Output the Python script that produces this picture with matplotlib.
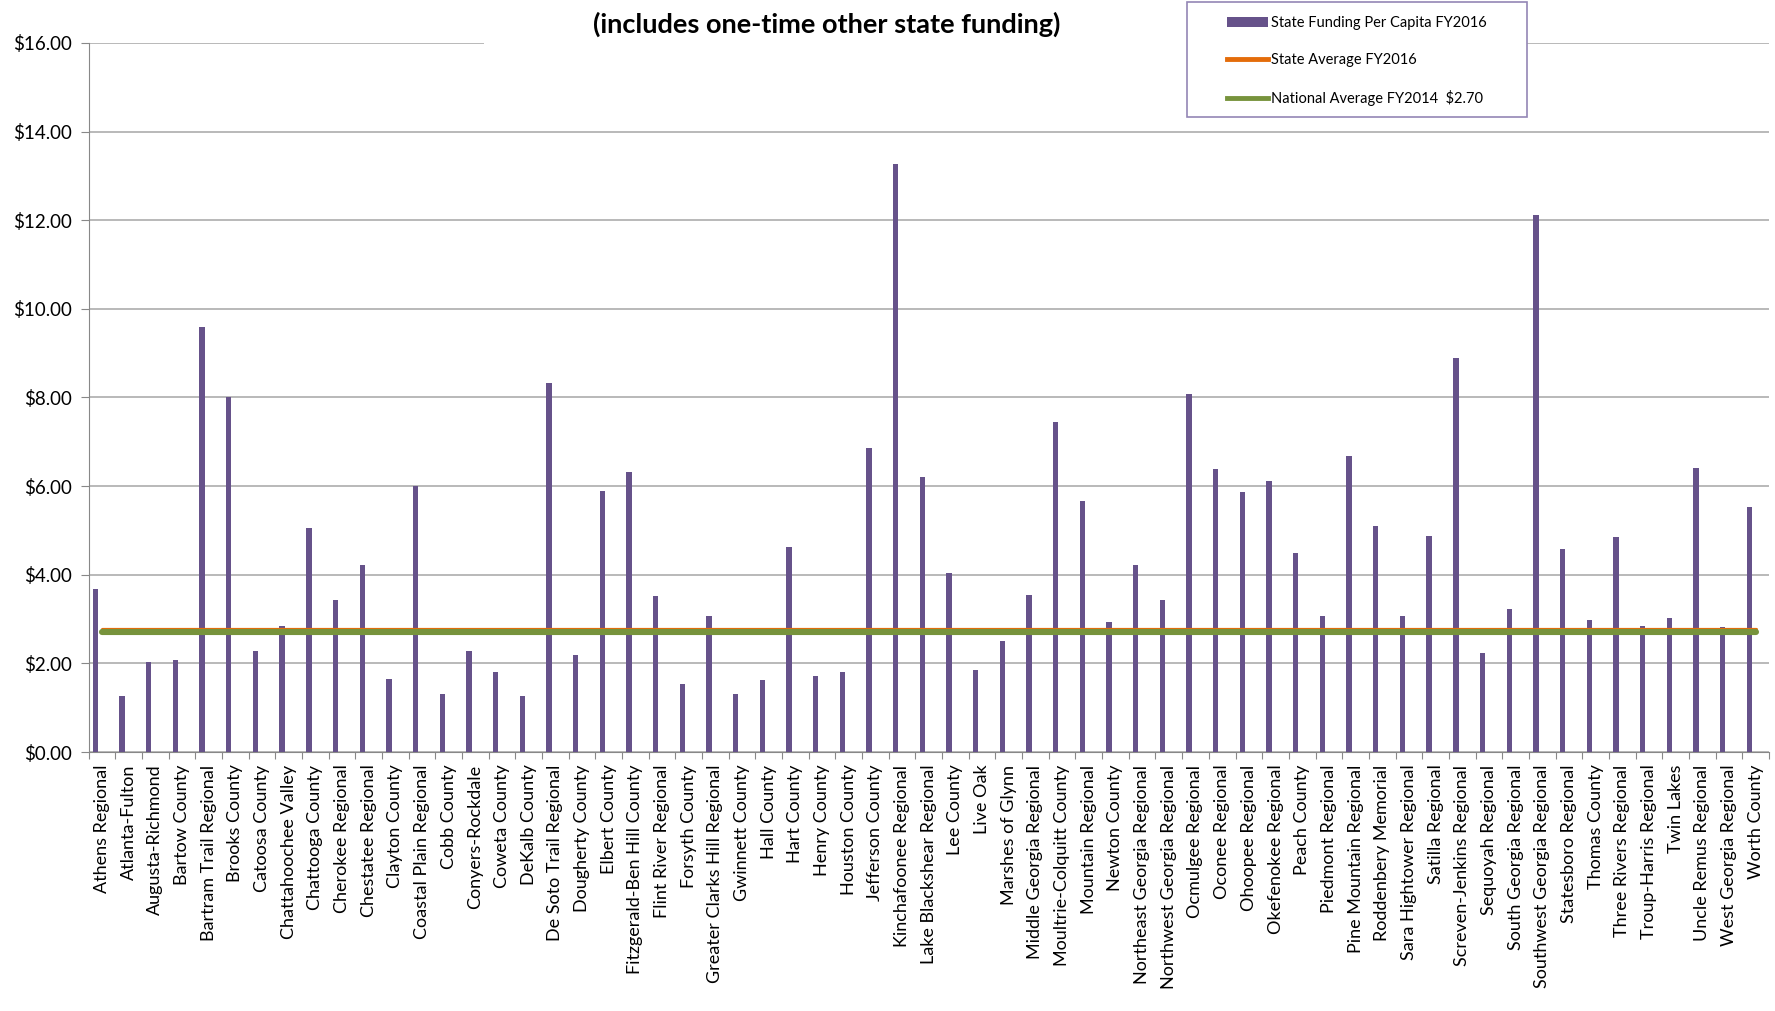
import numpy as np
import matplotlib.pyplot as plt
from matplotlib.patches import Rectangle, Patch
from matplotlib.lines import Line2D

# Datos
libraries = ['Athens Regional', 'Atlanta-Fulton', 'Augusta-Richmond', 'Bartow County',
             'Bartram Trail Regional', 'Brooks County', 'Catoosa County', 'Chattahoochee Valley',
             'Chattooga County', 'Cherokee Regional', 'Chestatee Regional', 'Clayton County',
             'Coastal Plain Regional', 'Cobb County', 'Conyers-Rockdale', 'Coweta County',
             'DeKalb County', 'De Soto Trail Regional', 'Dougherty County', 'Elbert County',
             'Fitzgerald-Ben Hill County', 'Flint River Regional', 'Forsyth County',
             'Greater Clarks Hill Regional', 'Gwinnett County', 'Hall County', 'Hart County',
             'Henry County', 'Houston County', 'Jefferson County', 'Kinchafoonee Regional',
             'Lake Blackshear Regional', 'Lee County', 'Live Oak', 'Marshes of Glynn',
             'Middle Georgia Regional', 'Moultrie-Colquitt County', 'Mountain Regional',
             'Newton County', 'Northeast Georgia Regional', 'Northwest Georgia Regional',
             'Ocmulgee Regional', 'Oconee Regional', 'Ohoopee Regional', 'Okefenokee Regional',
             'Peach County', 'Piedmont Regional', 'Pine Mountain Regional', 'Roddenbery Memorial',
             'Sara Hightower Regional', 'Satilla Regional', 'Screven-Jenkins Regional',
             'Sequoyah Regional', 'South Georgia Regional', 'Southwest Georgia Regional',
             'Statesboro Regional', 'Thomas County', 'Three Rivers Regional',
             'Troup-Harris Regional', 'Twin Lakes', 'Uncle Remus Regional',
             'West Georgia Regional', 'Worth County']

funding_2016 = [3.67, 1.27, 2.04, 2.07, 9.58, 8.00, 2.29, 2.84,
                5.06, 3.43, 4.21, 1.65, 6.00, 1.31, 2.29, 1.81,
                1.27, 8.32, 2.19, 5.90, 6.32, 3.53, 1.54,
                3.08, 1.31, 1.63, 4.63, 1.72, 1.81, 6.86, 13.26,
                6.20, 4.03, 1.85, 2.50, 3.55, 7.45, 5.67,
                2.93, 4.23, 3.43, 8.09, 6.38, 5.87, 6.11,
                4.50, 3.06, 6.68, 5.10, 3.08, 4.88, 8.90,
                2.23, 3.22, 12.11, 4.59, 2.99, 4.86,
                2.85, 3.03, 6.41, 2.83, 5.52]

state_avg_2016 = 2.77
national_avg_2014 = 2.70

titulo = '(includes one-time other state funding)'
etiquetas_leyenda = ['State Funding Per Capita FY2016', 'State Average FY2016',
                     'National Average FY2014  $2.70']

# Colores estilo Excel
purple = '#66528A'
orange = '#E46C0A'
green = '#77933C'
grid_gray = '#A6A6A6'

plt.rcParams['font.family'] = ['Lato', 'DejaVu Sans']

fig = plt.figure(figsize=(17.75, 10.11), dpi=100)
ax = fig.add_axes([0.04986, 0.25618, 0.94676, 0.70129])

x = np.arange(len(libraries))
ax.bar(x - 0.24, funding_2016, width=0.2, color=purple, zorder=3)

ax.plot([x[0], x[-1]], [state_avg_2016] * 2, color=orange, lw=2.3,
        solid_capstyle='round', zorder=4)
ax.plot([x[0], x[-1]], [national_avg_2014] * 2, color=green, lw=4.4,
        solid_capstyle='round', zorder=5)

ax.set_xlim(-0.5, len(libraries) - 0.5)
ax.set_ylim(0, 16)
ax.set_yticks(np.arange(0, 17, 2))
ax.set_yticklabels(['${:.2f}'.format(v) for v in np.arange(0, 17, 2)])
ax.yaxis.grid(True, color=grid_gray, lw=1.1, zorder=0)
ax.set_axisbelow(True)

# ticks entre categorías, etiquetas al centro
ax.set_xticks(np.arange(-0.5, len(libraries), 1))
ax.set_xticklabels([])
ax.set_xticks(x, minor=True)
ax.set_xticklabels(libraries, minor=True, rotation=90, fontsize=13)
ax.tick_params(axis='x', which='major', length=5, color='#888888', direction='out')
ax.tick_params(axis='x', which='minor', length=0, pad=9)
ax.tick_params(axis='y', length=6, color='#888888', labelsize=13.5, pad=6)

for s in ['top', 'right']:
    ax.spines[s].set_visible(False)
for s in ['left', 'bottom']:
    ax.spines[s].set_color('#888888')

# caja blanca del título
fig.patches.append(Rectangle((0.2727, 0.94), 0.396, 0.06, transform=fig.transFigure,
                             facecolor='white', edgecolor='none', zorder=2))
fig.text(0.466, 0.976, titulo, ha='center', va='center', fontsize=19.5,
         fontweight='bold', zorder=3)

# leyenda
fig.patches.append(Rectangle((0.6687, 0.8843), 0.1915, 0.1137, transform=fig.transFigure,
                             facecolor='white', edgecolor='#9486B5', lw=1.2, zorder=2))
handles = [Patch(facecolor=purple),
           Line2D([0], [0], color=orange, lw=3.5),
           Line2D([0], [0], color=green, lw=3.5)]
leg = fig.legend(handles, etiquetas_leyenda, loc='upper left', bbox_to_anchor=(0.6913, 0.984),
                 frameon=False, fontsize=10.5, borderpad=0, borderaxespad=0,
                 labelspacing=1.58, handlelength=2.8, handleheight=0.6, handletextpad=0.2)
leg.set_zorder(3)

fig.savefig('out.png', dpi=100)
